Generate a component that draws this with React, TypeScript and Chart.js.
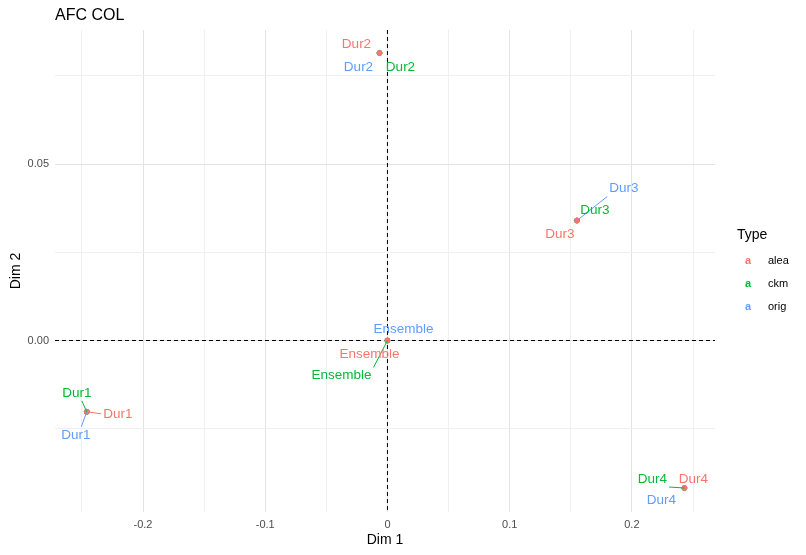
import React, { useEffect, useRef } from "react";
import { Chart, registerables } from "chart.js";
Chart.register(...registerables);

const categories = ["Dur1", "Dur2", "Dur3", "Dur4", "Ensemble"];
const dim1 = [-0.246, -0.0065, 0.155, 0.243, 0.0];
const dim2 = [-0.0202, 0.0815, 0.034, -0.0418, 0.0];
const types = ["alea", "ckm", "orig"];
const typeColors: Record<string, string> = { alea: "#F8766D", ckm: "#00BA38", orig: "#619CFF" };
// label offsets (px) per type per category, and whether a leader segment is drawn
const labelOffsets: Record<string, [number, number, boolean][]> = {
  alea: [[31, 2, true], [-23, -9, false], [-17, 14, false], [9, -9, false], [-18, 14, false]],
  ckm: [[-10, -19, true], [21, 14, false], [18, -10, false], [-32, -9, true], [-46, 35, true]],
  orig: [[-11, 23, true], [-21, 14, false], [47, -32, true], [-23, 12, false], [16, -11, false]],
};
const legendTypes = ["alea", "ckm", "orig"];

export default function App() {
  const ref = useRef<HTMLCanvasElement>(null);
  useEffect(() => {
    const font = "'Liberation Sans', Arial, sans-serif";
    const plugin = {
      id: "deco",
      beforeDatasetsDraw(chart: any) {
        const { ctx, chartArea: a, scales } = chart;
        ctx.save();
        ctx.strokeStyle = "#000";
        ctx.lineWidth = 1;
        ctx.setLineDash([4, 3]);
        const x0 = scales.x.getPixelForValue(0), y0 = scales.y.getPixelForValue(0);
        ctx.beginPath(); ctx.moveTo(x0, a.top); ctx.lineTo(x0, a.bottom); ctx.stroke();
        ctx.beginPath(); ctx.moveTo(a.left, y0); ctx.lineTo(a.right, y0); ctx.stroke();
        ctx.restore();
      },
      afterDatasetsDraw(chart: any) {
        const { ctx, scales, chartArea: a } = chart;
        ctx.save();
        ctx.font = `13.5px ${font}`;
        ctx.textAlign = "center";
        ctx.textBaseline = "middle";
        for (const t of ["orig", "ckm", "alea"]) {
          categories.forEach((c, i) => {
            const px = scales.x.getPixelForValue(dim1[i]);
            const py = scales.y.getPixelForValue(dim2[i]);
            const [dx, dy, line] = labelOffsets[t][i];
            ctx.fillStyle = typeColors[t];
            ctx.strokeStyle = typeColors[t];
            if (line) {
              const w = ctx.measureText(c).width / 2 + 2;
              let ex = px + dx, ey = py + dy;
              if (Math.abs(dx) > w) ex = px + dx - Math.sign(dx) * w;
              else ex = px + dx * 0.5;
              if (Math.abs(dy) > 8) ey = py + dy - Math.sign(dy) * 8; else ey = py + dy;
              ctx.beginPath(); ctx.moveTo(px, py); ctx.lineTo(ex, ey); ctx.stroke();
            }
            ctx.fillText(c, px + dx, py + dy);
          });
        }
        ctx.fillStyle = "#000";
        ctx.textAlign = "left";
        ctx.font = `16px ${font}`;
        ctx.fillText("AFC COL", 55, 16);
        ctx.font = `14px ${font}`;
        ctx.textAlign = "center";
        ctx.fillText("Dim 1", (a.left + a.right) / 2, 540);
        ctx.save();
        ctx.translate(16, (a.top + a.bottom) / 2);
        ctx.rotate(-Math.PI / 2);
        ctx.fillText("Dim 2", 0, 0);
        ctx.restore();
        ctx.textAlign = "left";
        ctx.font = `14px ${font}`;
        ctx.fillText("Type", 737, 235);
        legendTypes.forEach((t, i) => {
          const y = 261 + i * 23;
          ctx.fillStyle = typeColors[t];
          ctx.font = `bold 11px ${font}`;
          ctx.fillText("a", 745, y);
          ctx.font = `11px ${font}`;
          ctx.fillStyle = "#000";
          ctx.fillText(t, 768, y);
        });
        ctx.restore();
      },
    };
    const datasets = types.map((t) => ({
      label: t,
      data: dim1.map((x, i) => ({ x, y: dim2[i] })),
      backgroundColor: typeColors[t],
      borderColor: typeColors[t],
      pointRadius: 2.5,
    }));
    const chart = new Chart(ref.current!, {
      type: "scatter",
      data: { datasets },
      plugins: [plugin],
      options: {
        animation: false,
        responsive: false,
        layout: { padding: { top: 30, right: 91, left: 0, bottom: 0 } },
        plugins: { legend: { display: false }, tooltip: { enabled: false } },
        scales: {
          x: {
            min: -0.272, max: 0.268,
            afterFit: (s: any) => { s.height = 43; },
            afterBuildTicks: (s: any) => {
              const t = [];
              for (let v = -0.25; v <= 0.2501; v += 0.05) t.push({ value: Math.round(v * 100) / 100 });
              s.ticks = t;
            },
            border: { display: false },
            grid: {
              color: (c: any) => (Math.abs(Math.round(c.tick.value * 100)) % 10 === 0 ? "#e3e3e3" : "#f0f0f0"),
              drawTicks: false,
            },
            ticks: {
              padding: 6,
              color: "#4d4d4d",
              font: { size: 11, family: font },
              callback: (v: any) => (Math.abs(Math.round(v * 100)) % 10 === 0 ? String(Math.round(v * 10) / 10) : ""),
            },
          },
          y: {
            min: -0.0486, max: 0.088,
            afterFit: (s: any) => { s.width = 55; },
            afterBuildTicks: (s: any) => {
              const t = [];
              for (let v = -0.025; v <= 0.0751; v += 0.025) t.push({ value: Math.round(v * 1000) / 1000 });
              s.ticks = t;
            },
            border: { display: false },
            grid: {
              color: (c: any) => (Math.abs(Math.round(c.tick.value * 1000)) % 50 === 0 ? "#e3e3e3" : "#f0f0f0"),
              drawTicks: false,
            },
            ticks: {
              padding: 6,
              color: "#4d4d4d",
              font: { size: 11, family: font },
              callback: (v: any) => (Math.abs(Math.round(v * 1000)) % 50 === 0 ? Number(v).toFixed(2) : ""),
            },
          },
        },
      },
    });
    return () => chart.destroy();
  }, []);
  return (
    <div style={{ position: "absolute", left: 0, top: 0, width: 806, height: 555, background: "#fff" }}>
      <canvas ref={ref} width={806} height={555} />
    </div>
  );
}
